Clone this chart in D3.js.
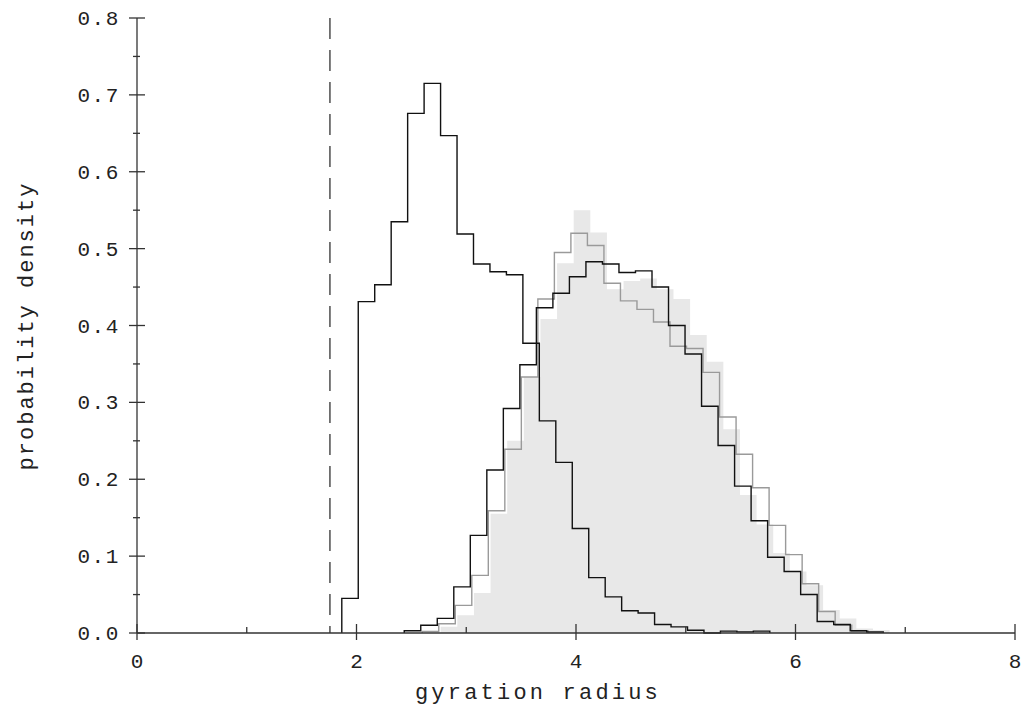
<!DOCTYPE html>
<html>
<head>
<meta charset="utf-8">
<script src="https://cdn.jsdelivr.net/npm/d3@7"></script>
<style>
  html, body { margin: 0; padding: 0; background: #fff; }
  svg { display: block; }
  text { font-family: "Liberation Mono", "DejaVu Sans Mono", monospace; fill: #222; }
</style>
</head>
<body>
<svg id="chart" width="1022" height="706"></svg>
<script>
// ---- data ----
// Histogram A (black, compact structures)
const startA = 1.866, widthA = 0.15;
const valuesA = [0.045, 0.431, 0.453, 0.535, 0.676, 0.715, 0.647, 0.519, 0.480, 0.470,
                 0.466, 0.377, 0.276, 0.222, 0.136, 0.072, 0.047, 0.029, 0.026, 0.011,
                 0.008, 0.0035, 0.0, 0.0025, 0.0015, 0.0025];
// Histogram B (black, extended)
const startB = 2.435, widthB = 0.1505;
const valuesB = [0.003, 0.010, 0.019, 0.060, 0.127, 0.212, 0.292, 0.349, 0.423, 0.442,
                 0.4635, 0.483, 0.480, 0.469, 0.471, 0.450, 0.400, 0.363, 0.295, 0.244,
                 0.191, 0.146, 0.0985, 0.080, 0.050, 0.015, 0.011, 0.003, 0.0013];
// Histogram C (gray line)
const startC = 2.599, widthC = 0.1505;
const valuesC = [0.002, 0.012, 0.036, 0.075, 0.159, 0.239, 0.333, 0.4345, 0.495, 0.520,
                 0.504, 0.455, 0.432, 0.421, 0.4045, 0.373, 0.370, 0.339, 0.281, 0.2325,
                 0.189, 0.140, 0.102, 0.064, 0.028, 0.010, 0.0026];
// Histogram D (light gray filled)
const startD = 2.767, widthD = 0.1515;
const valuesD = [0.008, 0.023, 0.052, 0.155, 0.250, 0.333, 0.4085, 0.481, 0.550, 0.521,
                 0.447, 0.458, 0.461, 0.447, 0.4345, 0.3876, 0.353, 0.265, 0.1795, 0.141,
                 0.104, 0.080, 0.062, 0.030, 0.019, 0.006, 0.004];
// Reference line
const dashedX = 1.758;
// Axes
const xTicksMajor = [0, 2, 4, 6, 8];
const xTicksMinor = [1, 3, 5, 7];
const yTicksMajor = [0.0, 0.1, 0.2, 0.3, 0.4, 0.5, 0.6, 0.7, 0.8];
const yTicksMinor = [0.05, 0.15, 0.25, 0.35, 0.45, 0.55, 0.65, 0.75];
const xTitle = "gyration radius";
const yTitle = "probability density";

// ---- layout ----
const svg = d3.select("#chart");
const x = d3.scaleLinear().domain([0, 8]).range([137, 1015]);
const y = d3.scaleLinear().domain([0, 0.8]).range([633, 18]);

function stepPoints(start, w, vals) {
  const pts = [[start, 0]];
  vals.forEach((v, i) => pts.push([start + i * w, v]));
  const end = start + vals.length * w;
  pts.push([end, vals[vals.length - 1]]);
  pts.push([end, 0]);
  return pts;
}

const line = d3.line().x(d => x(d[0])).y(d => y(d[1])).curve(d3.curveStepAfter);
const area = d3.area().x(d => x(d[0])).y0(y(0)).y1(d => y(d[1])).curve(d3.curveStepAfter);

// filled histogram D
svg.append("path")
  .datum(stepPoints(startD, widthD, valuesD))
  .attr("d", area)
  .attr("fill", "#e8e8e8")
  .attr("stroke", "none");

// gray line C
svg.append("path")
  .datum(stepPoints(startC, widthC, valuesC))
  .attr("d", line)
  .attr("fill", "none")
  .attr("stroke", "#9a9a9a")
  .attr("stroke-width", 1.4);

// black B
svg.append("path")
  .datum(stepPoints(startB, widthB, valuesB))
  .attr("d", line)
  .attr("fill", "none")
  .attr("stroke", "#111")
  .attr("stroke-width", 1.4);

// black A
svg.append("path")
  .datum(stepPoints(startA, widthA, valuesA))
  .attr("d", line)
  .attr("fill", "none")
  .attr("stroke", "#111")
  .attr("stroke-width", 1.4);

// dashed line
svg.append("line")
  .attr("x1", x(dashedX)).attr("x2", x(dashedX))
  .attr("y1", y(0.8)).attr("y2", y(0))
  .attr("stroke", "#333")
  .attr("stroke-width", 1.3)
  .attr("stroke-dasharray", "21,11");

// axes lines
const axisColor = "#333";
svg.append("line").attr("x1", x(0)).attr("x2", x(8)).attr("y1", y(0)).attr("y2", y(0))
  .attr("stroke", axisColor).attr("stroke-width", 1.3);
svg.append("line").attr("x1", x(0)).attr("x2", x(0)).attr("y1", y(0)).attr("y2", y(0.8))
  .attr("stroke", axisColor).attr("stroke-width", 1.3);

// x ticks
svg.selectAll(".xmaj").data(xTicksMajor).enter().append("line")
  .attr("x1", d => x(d)).attr("x2", d => x(d))
  .attr("y1", y(0) - 9).attr("y2", y(0) + 7)
  .attr("stroke", axisColor).attr("stroke-width", 1.3);
svg.selectAll(".xmin").data(xTicksMinor).enter().append("line")
  .attr("x1", d => x(d)).attr("x2", d => x(d))
  .attr("y1", y(0) - 6).attr("y2", y(0))
  .attr("stroke", axisColor).attr("stroke-width", 1.3);
svg.selectAll(".xlab").data(xTicksMajor).enter().append("text")
  .attr("x", d => x(d)).attr("y", 668)
  .attr("text-anchor", "middle")
  .attr("font-size", 21)
  .text(d => d3.format("d")(d));

// y ticks
svg.selectAll(".ymaj").data(yTicksMajor).enter().append("line")
  .attr("x1", x(0) - 8).attr("x2", x(0) + 8)
  .attr("y1", d => y(d)).attr("y2", d => y(d))
  .attr("stroke", axisColor).attr("stroke-width", 1.3);
svg.selectAll(".ymin").data(yTicksMinor).enter().append("line")
  .attr("x1", x(0) - 4).attr("x2", x(0) + 3)
  .attr("y1", d => y(d)).attr("y2", d => y(d))
  .attr("stroke", axisColor).attr("stroke-width", 1.3);
svg.selectAll(".ylab").data(yTicksMajor).enter().append("text")
  .attr("x", 120).attr("y", d => y(d) + 7)
  .attr("text-anchor", "end")
  .attr("font-size", 21)
  .attr("letter-spacing", 1.6)
  .text(d => d3.format(".1f")(d));

// titles
svg.append("text")
  .attr("x", 538).attr("y", 699)
  .attr("text-anchor", "middle")
  .attr("font-size", 22)
  .attr("letter-spacing", 3.2)
  .text(xTitle);
svg.append("text")
  .attr("transform", "translate(33,326) rotate(-90)")
  .attr("text-anchor", "middle")
  .attr("font-size", 22)
  .attr("letter-spacing", 2.0)
  .text(yTitle);
</script>
</body>
</html>
